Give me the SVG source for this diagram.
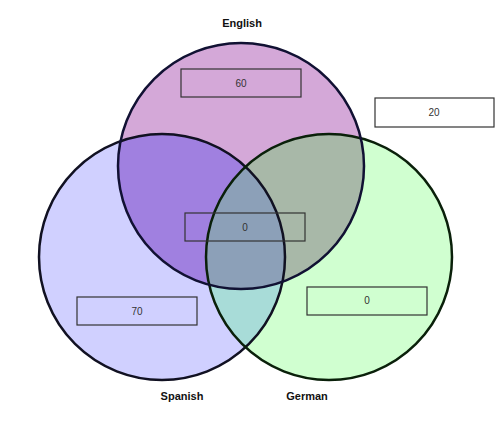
<svg xmlns="http://www.w3.org/2000/svg" width="498" height="421" viewBox="0 0 498 421">
<style>
text{font-family:"Liberation Sans",Arial,sans-serif;font-size:10px;fill:#333;text-anchor:middle}
.t{font-weight:bold;font-size:11px;fill:#111}
.b{stroke:#333;stroke-width:1.2}
.o{fill:none;stroke-width:2.5}
</style>
<defs>
<clipPath id="cS"><circle cx="162" cy="257" r="123"/></clipPath>
<clipPath id="cG"><circle cx="329" cy="257" r="123"/></clipPath>
</defs>
<rect width="498" height="421" fill="#fff"/>
<g id="regions">
<circle cx="162" cy="257" r="123" fill="#d0d0ff"/>
<circle cx="329" cy="257" r="123" fill="#d0ffd0"/>
<circle cx="241" cy="166" r="123" fill="#d4a8d8"/>
<circle cx="329" cy="257" r="123" fill="#a8dcd8" clip-path="url(#cS)"/>
<circle cx="241" cy="166" r="123" fill="#a080e0" clip-path="url(#cS)"/>
<circle cx="241" cy="166" r="123" fill="#a8b8a8" clip-path="url(#cG)"/>
<g clip-path="url(#cG)"><circle cx="241" cy="166" r="123" fill="#8ca0b8" clip-path="url(#cS)"/></g>
</g>
<g id="outlines">
<circle class="o" cx="162" cy="257" r="123" stroke="#111122"/>
<circle class="o" cx="329" cy="257" r="123" stroke="#0a200a"/>
<circle class="o" cx="241" cy="166" r="123" stroke="#111133"/>
</g>
<g id="english"><text class="t" x="242" y="27">English</text><rect class="b" x="181" y="69" width="120" height="28" fill="none"/><text x="241" y="87">60</text></g>
<g id="none"><rect class="b" x="375" y="98" width="119" height="29" fill="#fff"/><text x="434" y="116">20</text></g>
<g id="all"><rect class="b" x="185" y="213" width="120" height="28" fill="none"/><text x="245" y="231">0</text></g>
<g id="spanish"><text class="t" x="182" y="400">Spanish</text><rect class="b" x="77" y="297" width="120" height="28" fill="none"/><text x="137" y="315">70</text></g>
<g id="german"><text class="t" x="307" y="400">German</text><rect class="b" x="307" y="287" width="120" height="28" fill="none"/><text x="367" y="304">0</text></g>
</svg>
